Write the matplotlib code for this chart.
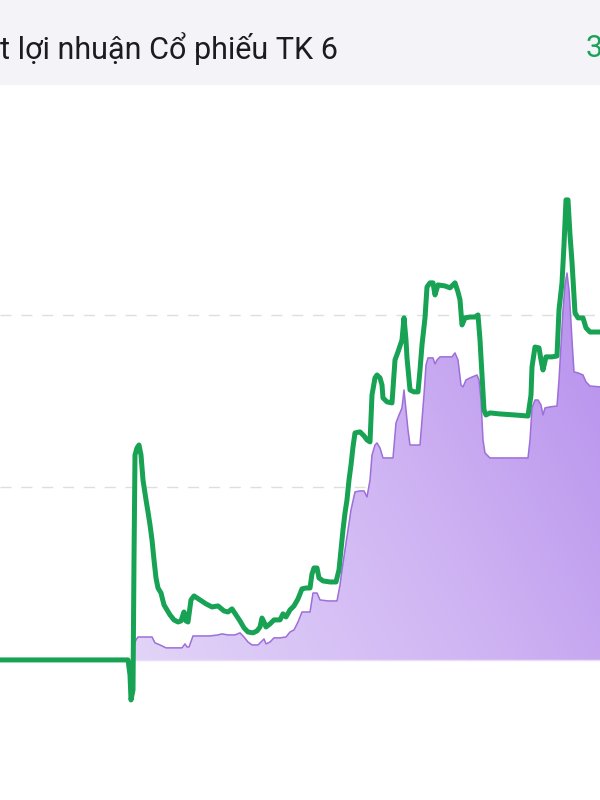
import numpy as np
import matplotlib
matplotlib.use("Agg")
import matplotlib.pyplot as plt
from matplotlib.colors import LinearSegmentedColormap

# strategy return (green line), % by trading day
green_days = [0, 128, 130, 131, 133, 134, 135, 137, 139, 141, 143, 146, 148, 150, 152, 154, 156, 158,
              161, 164, 167, 170, 174, 178, 181, 184, 186, 188, 191, 194, 200, 206, 212, 218, 224, 228,
              232, 236, 240, 244, 248, 253, 257, 260, 262, 264, 266, 270, 274, 280, 283, 286, 290, 294,
              298, 302, 306, 310, 312, 314, 317, 319, 323, 330, 336, 339, 341, 343, 345, 347, 349, 351,
              353, 355, 360, 364, 367, 370, 372, 375, 377, 380, 382, 383, 387, 392, 395, 398, 402, 404,
              406, 407, 409, 410, 414, 418, 420, 422, 425, 427, 430, 433, 435, 438, 445, 450, 455, 458,
              460, 462, 465, 470, 475, 478, 480, 482, 484, 486, 490, 500, 515, 528, 531, 532, 535, 539,
              541, 543, 546, 552, 557, 559, 562, 564, 566, 568, 570, 572, 575, 578, 583, 586, 590, 600]
green_vals = [0, 0, -0.87, -2.32, -1.74, 5.80, 11.88, 12.29, 12.46, 11.88, 10.43, 9.28, 8.58, 7.83, 6.96,
              5.80, 4.75, 4.17, 3.88, 3.19, 2.90, 2.61, 2.32, 2.20, 2.26, 2.78, 2.26, 2.20, 3.48, 3.71,
              3.48, 3.25, 3.07, 3.13, 2.84, 2.78, 2.96, 2.61, 2.26, 1.86, 1.62, 1.57, 1.68, 1.91, 2.43,
              2.20, 1.91, 2.09, 2.32, 2.32, 2.67, 2.49, 2.90, 3.13, 3.54, 4.12, 4.17, 4.17, 4.99, 5.33,
              5.33, 4.75, 4.58, 4.52, 4.52, 5.22, 6.38, 7.54, 8.52, 9.28, 10.43, 11.30, 12.35, 13.16,
              13.22, 12.99, 12.75, 12.64, 15.36, 16.35, 16.52, 16.35, 15.94, 15.19, 14.96, 14.90, 17.39,
              17.86, 18.55, 19.83, 18.55, 17.51, 16.23, 15.65, 15.54, 15.54, 16.81, 18.26, 19.83, 21.62,
              21.86, 21.86, 21.16, 21.74, 21.68, 21.57, 21.86, 21.33, 20.87, 19.42, 19.83, 19.88, 19.88,
              20.00, 18.55, 16.52, 14.49, 14.20, 14.32, 14.26, 14.20, 14.14, 15.36, 16.99, 18.14, 18.09,
              17.39, 16.81, 17.57, 17.57, 17.62, 20.29, 21.86, 24.06, 26.67, 26.67, 24.64, 23.07, 20.12,
              19.83, 19.83, 19.25, 19.01, 19.01]

# stock TK 6 return (purple area)
purple_days = [133, 134, 136, 138, 152, 155, 160, 166, 182, 185, 187, 189, 193, 210, 218, 222, 228, 235,
               240, 244, 248, 252, 258, 262, 264, 266, 270, 274, 280, 286, 290, 294, 298, 302, 310, 313,
               317, 320, 328, 337, 340, 342, 345, 348, 351, 355, 360, 364, 367, 370, 372, 375, 377, 380,
               383, 393, 396, 399, 402, 404, 406, 408, 410, 420, 422, 424, 426, 428, 433, 435, 437, 440,
               452, 455, 458, 461, 463, 466, 470, 477, 479, 481, 483, 485, 490, 528, 530, 532, 535, 538,
               541, 543, 545, 550, 557, 559, 561, 563, 565, 567, 569, 570, 572, 574, 578, 583, 586, 590, 600]
purple_vals = [0, 0.87, 1.16, 1.33, 1.33, 0.99, 0.87, 0.70, 0.70, 0.93, 0.75, 0.75, 1.39, 1.39, 1.45,
               1.51, 1.45, 1.45, 1.57, 1.33, 1.04, 0.87, 0.87, 1.10, 1.22, 0.93, 1.04, 1.28, 1.28, 1.33,
               1.62, 1.74, 2.20, 2.78, 2.78, 3.88, 3.88, 3.48, 3.42, 3.42, 4.35, 5.22, 6.38, 7.54, 8.70,
               9.74, 9.80, 9.80, 9.45, 10.43, 11.88, 12.46, 12.58, 12.29, 11.71, 11.71, 13.74, 14.20,
               14.61, 15.65, 14.49, 13.33, 12.46, 12.46, 13.91, 15.36, 17.10, 17.51, 17.51, 17.16, 17.39,
               17.57, 17.57, 17.80, 17.39, 15.94, 15.83, 16.23, 16.35, 16.52, 16.23, 15.07, 12.75, 12.00,
               11.71, 11.71, 12.75, 14.61, 15.07, 15.07, 14.78, 14.20, 14.61, 14.67, 14.72, 16.23, 18.26,
               20.29, 21.74, 22.43, 21.45, 20.58, 18.55, 16.70, 16.64, 16.52, 16.12, 15.88, 15.83]

grid_levels = [10, 20]
title = "t lợi nhuận Cổ phiếu TK 6"
right_label = "3"

plt.rcParams['font.family'] = ['Roboto', 'DejaVu Sans']

fig = plt.figure(figsize=(6, 8), dpi=100)
fig.patch.set_facecolor("white")

# header bar
hdr = fig.add_axes([0, 1 - 85 / 800, 1, 85 / 800])
hdr.set_facecolor("#f4f4f8")
hdr.set_xticks([])
hdr.set_yticks([])
for s in hdr.spines.values():
    s.set_visible(False)
hdr.text(0.0, 0.43, title, fontsize=22, color="#1c1c1e", va="center", ha="left",
         transform=hdr.transAxes)
hdr.text(0.976, 0.43, right_label, fontsize=22, color="#1aa25a", va="center", ha="left",
         transform=hdr.transAxes)

ax = fig.add_axes([0, 0, 1, 1 - 85 / 800])
ax.set_xlim(0, 600)
ax.set_ylim(-8.12, 33.33)
ax.axis("off")

for g in grid_levels:
    ax.axhline(g, color="#dedede", lw=1, dashes=(8, 7), zorder=1)

# purple gradient area
pd_ = np.array(purple_days, dtype=float)
pv = np.array(purple_vals)
poly = ax.fill_between(pd_, 0, pv, color="none", lw=0)
cmap = LinearSegmentedColormap.from_list("pp", ["#e2d4f8", "#cfb4f3", "#b38bec"])
xx, yy = np.meshgrid(np.linspace(0, 1, 200), np.linspace(0, 1, 200))
grad = xx * 0.65 + yy * 0.35
img = ax.imshow(grad, cmap=cmap, extent=[133, 600, 0, 27], origin="lower",
                aspect="auto", zorder=2)
img.set_clip_path(poly.get_paths()[0], transform=ax.transData)
ax.plot(pd_, pv, color="#9d6fd8", lw=1.1, zorder=3)
ax.plot([133, 600], [0, 0], color="#e8dcf8", lw=1, zorder=3)

ax.plot(green_days, green_vals, color="#17a254", lw=3.6, zorder=4,
        solid_joinstyle="round", solid_capstyle="round")

fig.savefig("out.png", dpi=100)
